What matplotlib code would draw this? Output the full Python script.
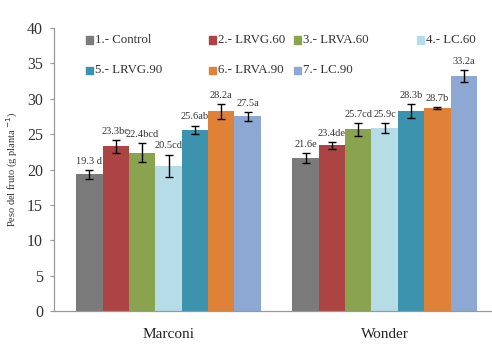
import matplotlib
matplotlib.use("Agg")
import matplotlib.pyplot as plt
from matplotlib.patches import Rectangle
import numpy as np

categories = ["Marconi", "Wonder"]
treatments = ["1.- Control", "2.- LRVG.60", "3.- LRVA.60", "4.- LC.60",
              "5.- LRVG.90", "6.- LRVA.90", "7.- LC.90"]
marconi = [19.3, 23.3, 22.4, 20.5, 25.6, 28.2, 27.5]
wonder = [21.6, 23.4, 25.7, 25.9, 28.3, 28.7, 33.2]
marconi_err = [0.6, 0.9, 1.3, 1.6, 0.6, 1.1, 0.6]
wonder_err = [0.7, 0.5, 0.9, 0.7, 1.0, 0.1, 0.9]
marconi_lbl = ["19.3 d", "23.3bc", "22.4bcd", "20.5cd", "25.6ab", "28.2a", "27.5a"]
wonder_lbl = ["21.6e", "23.4de", "25.7cd", "25.9c", "28.3b", "28.7b", "33.2a"]
colors = ["#7b7b7b", "#ac4444", "#8aa34f", "#b5dce7", "#3b93ae", "#df8238", "#8da8d2"]
yticks = [0, 5, 10, 15, 20, 25, 30, 35, 40]

serif = ["Liberation Serif", "DejaVu Serif"]
plt.rcParams["font.family"] = serif

W, H = 492, 347
fig = plt.figure(figsize=(W / 100, H / 100), dpi=100)
ax = fig.add_axes([54 / W, 36 / H, (W - 54) / W, 283 / H])

x = np.arange(len(categories))
w = 0.122
vals = np.array([marconi, wonder])
errs = np.array([marconi_err, wonder_err])
lbls = [marconi_lbl, wonder_lbl]
for i in range(len(treatments)):
    pos = x + (i - 3) * w
    ax.bar(pos, vals[:, i], width=w, color=colors[i], edgecolor="none", zorder=2)
    ax.errorbar(pos, vals[:, i], yerr=errs[:, i], fmt="none", ecolor="black",
                elinewidth=1.0, capsize=3, capthick=1.0, zorder=3)
    for g in range(len(categories)):
        ax.annotate(lbls[g][i], (pos[g], vals[g, i] + errs[g, i]),
                    xytext=(0, 3), textcoords="offset points",
                    ha="center", va="bottom", fontsize=7.5, color="#333333")

ax.set_xlim(-0.53, 1.497)
ax.set_ylim(0, 40)
ax.set_yticks(yticks)
ax.set_yticklabels([str(t) for t in yticks], fontsize=11.5, color="#333333")
ax.set_xticks(x)
ax.set_xticklabels(categories, fontsize=11, color="#222222")
ax.tick_params(axis="x", length=0, pad=12)
ax.tick_params(axis="y", length=3, width=0.8, color="#999999", pad=5)
for s in ["top", "right"]:
    ax.spines[s].set_visible(False)
for s in ["left", "bottom"]:
    ax.spines[s].set_color("#999999")
    ax.spines[s].set_linewidth(0.9)

ax.set_ylabel(r"Peso del fruto (g planta $^{-1}$)", fontsize=7.5, color="#333333", labelpad=5)

# Legend (manual, Excel-like layout)
col_x = [86, 209, 294, 417]
row_y = [40, 70]
order = [(0, 0), (0, 1), (0, 2), (0, 3), (1, 0), (1, 1), (1, 2)]
for i, (r, c) in enumerate(order):
    px = col_x[c]
    py = row_y[r]
    fig.patches.append(Rectangle((px / W, 1 - (py + 3.5) / H), 7 / W, 7 / H,
                                 transform=fig.transFigure, color=colors[i]))
    fig.text((px + 9) / W, 1 - py / H, treatments[i], fontsize=9.3,
             va="center", ha="left", color="#333333")

fig.savefig("out.png", dpi=100)
